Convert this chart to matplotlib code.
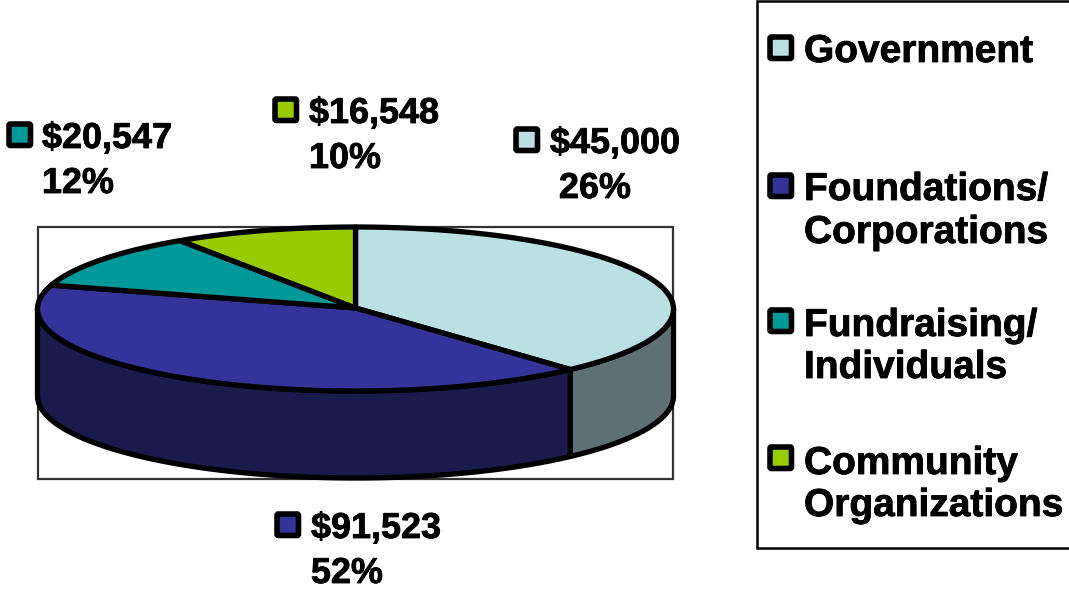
import numpy as np
import matplotlib
matplotlib.use("Agg")
import matplotlib.pyplot as plt
import matplotlib.patheffects as pe
from matplotlib.patches import Polygon, Rectangle, FancyBboxPatch

categories = ["Government", "Foundations/\nCorporations", "Fundraising/\nIndividuals", "Community\nOrganizations"]
amounts = ["$45,000", "$91,523", "$20,547", "$16,548"]
percents = ["26%", "52%", "12%", "10%"]
# slice sizes as drawn in the picture (percent of the ellipse sweep)
drawn_share = [38.2, 41.5, 11.0, 9.3]
top_colors = ["#BBE0E3", "#333399", "#009999", "#99CC00"]
side_colors = ["#5E7072", "#1A1A4D", "#004D4D", "#4D6600"]

W, H = 1069, 593
fig = plt.figure(figsize=(W / 100, H / 100), dpi=100)
ax = fig.add_axes([0, 0, 1, 1])
ax.set_xlim(0, W); ax.set_ylim(H, 0); ax.axis("off")
plt.rcParams["font.family"] = ["Liberation Sans", "DejaVu Sans"]

cx, cy, rx, ry, depth = 355.5, 309, 318, 82, 87
LW = 3.8
heavy = [pe.withStroke(linewidth=0.6, foreground="black")]

ax.add_patch(Rectangle((38, 227), 635, 252, fc="white", ec="#333333", lw=1.6, zorder=1))

def rim(t0, t1, n=200):
    t = np.radians(np.linspace(t0, t1, n))
    return np.column_stack([cx + rx * np.sin(t), cy - ry * np.cos(t)])

edges = np.concatenate([[0], np.cumsum(drawn_share)]) * 3.6

# sides: only the front half (90..270 deg) is visible
for i in range(len(drawn_share)):
    a, b = max(edges[i], 90), min(edges[i + 1], 270)
    if b > a:
        r = rim(a, b)
        low = r[::-1] + [0, depth]
        ax.add_patch(Polygon(np.vstack([r, low]), closed=True, fc=side_colors[i], ec="black",
                             lw=LW, joinstyle="round", zorder=2))

# top faces
for i in range(len(drawn_share)):
    r = rim(edges[i], edges[i + 1])
    ax.add_patch(Polygon(np.vstack([[cx, cy - 1], r]), closed=True, fc=top_colors[i], ec="black",
                         lw=LW, joinstyle="round", zorder=3))

def swatch(x, y, c):
    ax.add_patch(FancyBboxPatch((x + 3, y + 3), 21.5, 21.5, boxstyle="round,pad=0,rounding_size=1.5",
                                fc=c, ec="black", lw=4.0, zorder=4))

# data labels: swatch x, swatch y, text x, first baseline, second-line centre x
label_pos = [(513, 126, 550, 153, 595), (274, 511, 311, 538, 347),
             (6, 121, 42, 148, 78), (272, 96, 309, 123, 345)]
for (sx, sy, tx, by, pcx), amt, pct, c in zip(label_pos, amounts, percents, top_colors):
    swatch(sx, sy, c)
    ax.text(tx, by, amt, fontsize=25.9, fontweight="bold", va="baseline", ha="left", color="black",
            zorder=5, path_effects=heavy)
    ax.text(pcx, by + 45, pct, fontsize=25.9, fontweight="bold", va="baseline", ha="center", color="black",
            zorder=5, path_effects=heavy)

# legend
ax.add_patch(Rectangle((757, 0.5), 320, 547.5, fc="white", ec="black", lw=1.8, zorder=1))
leg_y = [34, 172, 307, 444]
leg_base = [[62], [200, 243], [336, 378], [474, 516]]
for c, name, sy, bases in zip(top_colors, categories, leg_y, leg_base):
    swatch(767, sy, c)
    for line, b in zip(name.split("\n"), bases):
        ax.text(804, b, line, fontsize=28, fontweight="bold", va="baseline", ha="left", color="black",
                zorder=5, path_effects=heavy)

fig.savefig("out.png", dpi=100, facecolor="white")
